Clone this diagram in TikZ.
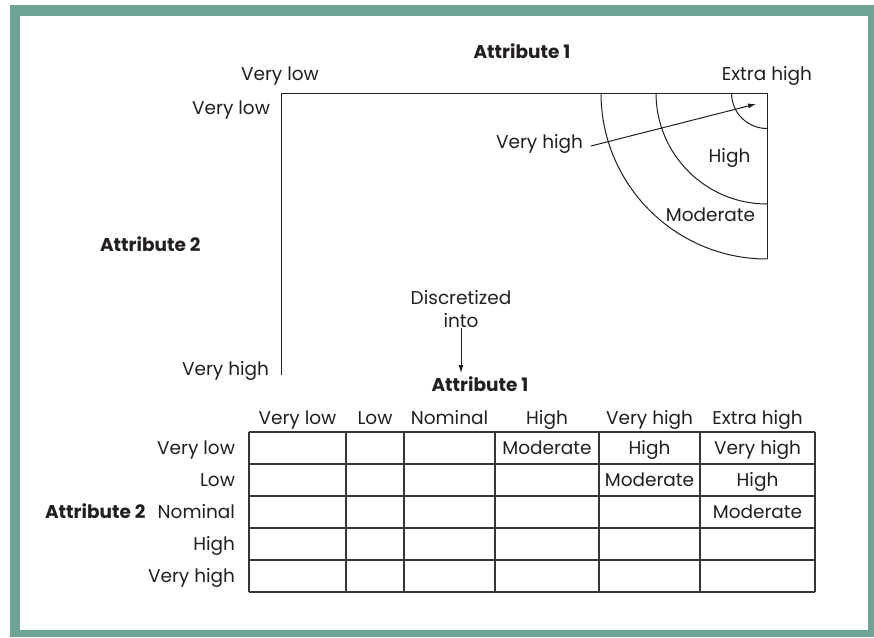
\documentclass[tikz,border=0pt]{standalone}
\usepackage{fontspec}
\setmainfont{Poppins}
\usetikzlibrary{arrows.meta}
\definecolor{framecol}{RGB}{110,163,150}
\definecolor{ink}{RGB}{35,31,32}
\begin{document}
\begin{tikzpicture}[x=1pt,y=-1pt,
  every node/.style={inner sep=0pt,outer sep=0pt,text=ink,font=\fontsize{18.5}{22}\selectfont},
  txt/.style={anchor=base},
  txtr/.style={anchor=base east},
  txtl/.style={anchor=base west},
  heading/.style={font=\fontsize{18.5}{22}\selectfont\bfseries},
  thin line/.style={draw=ink,line width=1pt},
  grid line/.style={draw=ink!90,line width=1.3pt},
  pointer/.style={draw=ink,line width=1pt,-{Latex[length=8pt,width=5pt]}}]

\useasboundingbox (0,0) rectangle (874,637);
% frame
\fill[white] (0,0) rectangle (874,637);
\fill[framecol] (10,5) rectangle (874,637);
\fill[white] (20,16) rectangle (868,630);

% ---- continuous attribute space ----
\node[heading,txt] (attrA) at (522,58) {Attribute 1};
\node[txt] (colVL) at (280,80) {Very low};
\node[txtr] (colEH) at (812,80) {Extra high};
\node[txtr] (rowVL) at (270,114) {Very low};
\node[heading,txtl] (attrB) at (100,251) {Attribute 2};
\node[txtr] (rowVH) at (269,375) {Very high};

\draw[thin line] (281,375) -- (281,93) -- (767,93) -- (767,259);
\draw[thin line] (731.5,93) arc[start angle=180,end angle=270,radius=35.5pt];
\draw[thin line] (656,93) arc[start angle=180,end angle=270,radius=111pt];
\draw[thin line] (601,93) arc[start angle=180,end angle=270,radius=166pt];

\node[txtr] (zVH) at (583,148) {Very high};
\node[txt] (zH) at (729.5,162) {High};
\node[txt] (zM) at (710.5,221) {Moderate};
\coordinate (zTip) at (756,104);
\draw[pointer] ([shift={(8pt,2pt)}]zVH.base east) -- (zTip);

% ---- discretization ----
\node[align=center,anchor=base,font=\fontsize{18.5}{23}\selectfont] (disc) at (461,327) {Discretized\\into};
\coordinate (discTip) at (461,373);
\draw[pointer] ([yshift=-1pt]disc.south) -- (discTip);

% ---- table ----
\node[heading,txt] (attrC) at (480,391) {Attribute 1};

\foreach \x in {249,346,404,495,599,700,815}
  \draw[grid line] (\x,432) -- (\x,592);
\foreach \y in {432,464,496,528,560,592}
  \draw[grid line] (249,\y) -- (815,\y);

\foreach \cx/\t/\n in {297.5/Very low/hA,375/Low/hB,449.5/Nominal/hC,547/High/hD,649.5/Very high/hE,757.5/Extra high/hF}
  \node[txt] (\n) at (\cx,424) {\t};

\foreach \by/\t/\n in {454/Very low/rA,486/Low/rB,518/Nominal/rC,550/High/rD,582/Very high/rE}
  \node[txtr] (\n) at (235,\by) {\t};
\node[heading,txtl] (attrD) at (45,518) {Attribute 2};

\node[txt] (cA) at (547,454) {Moderate};
\node[txt] (cB) at (649.5,454) {High};
\node[txt] (cC) at (757.5,454) {Very high};
\node[txt] (cD) at (649.5,486) {Moderate};
\node[txt] (cE) at (757.5,486) {High};
\node[txt] (cF) at (757.5,518) {Moderate};
\end{tikzpicture}
\end{document}
